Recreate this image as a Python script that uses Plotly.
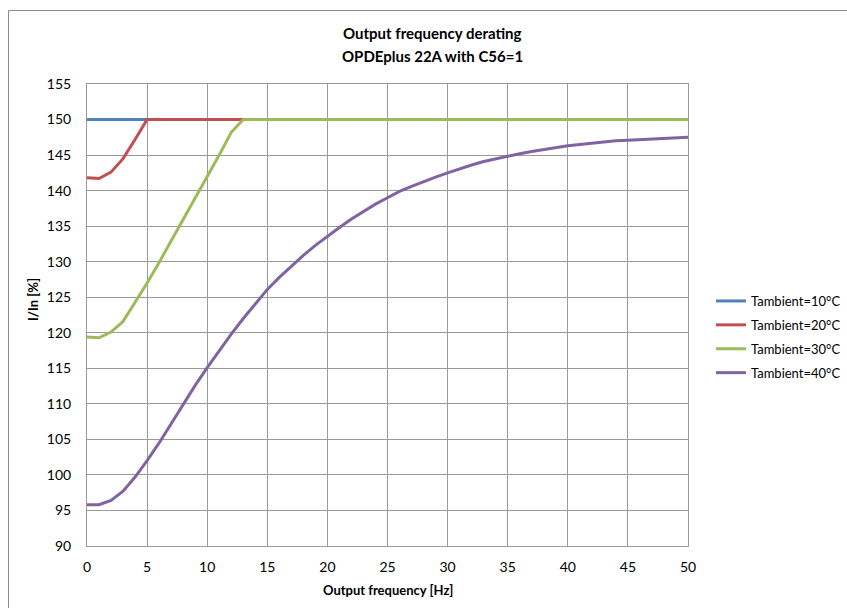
import plotly.graph_objects as go

# Output frequency points [Hz]
freq = list(range(0, 51))

# Current limit I/In [%] per ambient temperature
t10 = [150.0] * 51
t20 = [141.8, 141.7, 142.6, 144.5, 147.2, 150.0] + [150.0] * 45
t30 = [119.4, 119.3, 120.1, 121.6, 124.3, 127.0, 129.9, 132.9, 135.9, 138.9,
       142.0, 145.0, 148.2, 150.0] + [150.0] * 37
t40 = [95.8, 95.8, 96.4, 97.7, 99.7, 102.0, 104.5, 107.2, 110.0, 112.6,
       115.1, 117.5, 119.8, 122.0, 124.1, 126.1, 127.8, 129.4, 130.9, 132.3,
       133.6, 134.8, 136.0, 137.1, 138.1, 139.0, 139.9, 140.6, 141.3, 141.9,
       142.5, 143.1, 143.6, 144.1, 144.5, 144.8, 145.2, 145.5, 145.8, 146.0,
       146.3, 146.5, 146.7, 146.9, 147.0, 147.1, 147.2, 147.3, 147.4, 147.5,
       147.5]

series = [
    ("Tambient=10°C", t10, "#4F81BD"),
    ("Tambient=20°C", t20, "#C0504D"),
    ("Tambient=30°C", t30, "#9BBB59"),
    ("Tambient=40°C", t40, "#8064A2"),
]

FONT = "Lato, 'Open Sans', sans-serif"
GRID = "#9a9a9a"

fig = go.Figure()
for name, vals, color in series:
    fig.add_trace(go.Scatter(
        x=freq, y=vals, mode="lines", name=name, legendgroup=name,
        line=dict(color=color, width=3),
    ))

W, H = 847, 608
L, R, T, B = 87, 159, 84, 62
pw, ph = W - L - R, H - T - B


def px_x(p):
    return (p - L) / pw


def px_y(p):
    return (H - B - p) / ph


fig.update_layout(
    width=W, height=H,
    margin=dict(l=L, r=R, t=T, b=B, autoexpand=False),
    paper_bgcolor="white", plot_bgcolor="white",
    font=dict(family=FONT, size=14, color="#000000"),
    showlegend=True,
    legend=dict(
        x=px_x(711), y=px_y(337), xanchor="left", yanchor="middle",
        font=dict(family=FONT, size=13, color="#000000"),
        tracegroupgap=4, itemwidth=30, bgcolor="rgba(0,0,0,0)",
    ),
    xaxis=dict(
        range=[0, 50], dtick=5, tick0=0, showgrid=True, gridcolor=GRID,
        gridwidth=1, showline=True, linecolor=GRID, linewidth=1, mirror=True,
        ticks="outside", ticklen=8, tickcolor="rgba(0,0,0,0)",
        zeroline=False, tickfont=dict(size=14),
    ),
    yaxis=dict(
        range=[90, 155], dtick=5, tick0=90, showgrid=True, gridcolor=GRID,
        gridwidth=1, showline=True, linecolor=GRID, linewidth=1, mirror=True,
        ticks="outside", ticklen=12, tickcolor="rgba(0,0,0,0)",
        zeroline=False, tickfont=dict(size=14),
    ),
    annotations=[
        dict(text="<b>Output frequency derating</b>", xref="paper", yref="paper",
             x=px_x(432), y=px_y(33), showarrow=False,
             font=dict(size=15), xanchor="center", yanchor="middle"),
        dict(text="<b>OPDEplus 22A with C56=1</b>", xref="paper", yref="paper",
             x=px_x(432), y=px_y(56), showarrow=False,
             font=dict(size=15), xanchor="center", yanchor="middle"),
        dict(text="<b>Output frequency [Hz]</b>", xref="paper", yref="paper",
             x=px_x(388), y=px_y(590), showarrow=False,
             font=dict(size=13), xanchor="center", yanchor="middle"),
        dict(text="<b>I/In [%]</b>", xref="paper", yref="paper",
             x=px_x(33), y=px_y(300), showarrow=False, textangle=-90,
             font=dict(size=13), xanchor="center", yanchor="middle"),
    ],
    shapes=[
        dict(type="line", xref="paper", yref="paper",
             x0=px_x(8.5), x1=px_x(W + 5), y0=px_y(10.5), y1=px_y(10.5),
             line=dict(color="#8c8c8c", width=1)),
        dict(type="line", xref="paper", yref="paper",
             x0=px_x(8.5), x1=px_x(8.5), y0=px_y(10.5), y1=px_y(H + 5),
             line=dict(color="#8c8c8c", width=1)),
    ],
)

fig.write_html("out.html")
